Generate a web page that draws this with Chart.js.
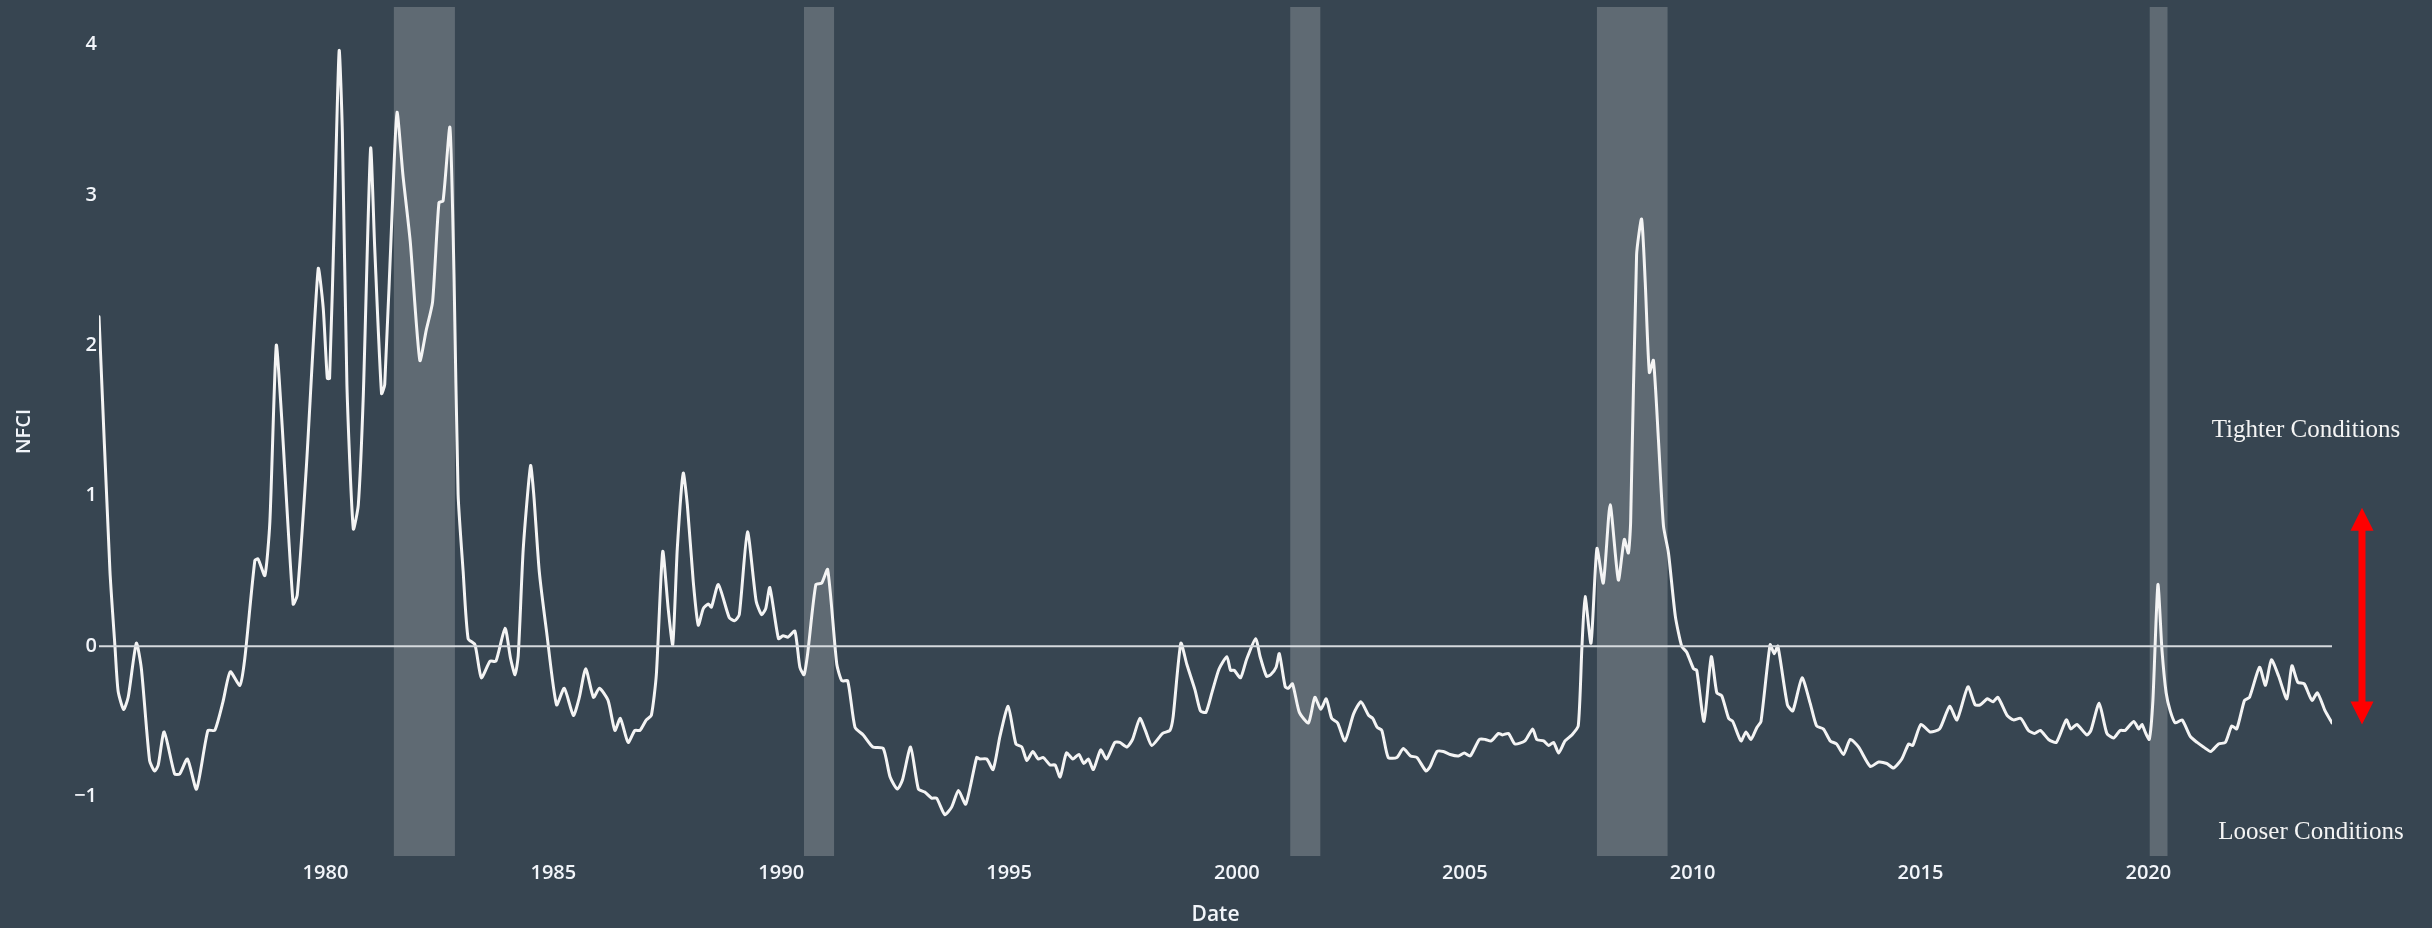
<!DOCTYPE html>
<html>
<head>
<meta charset="utf-8">
<script src="https://cdn.jsdelivr.net/npm/chart.js@4.4.1/dist/chart.umd.min.js"></script>
<style>
    html, body { margin: 0; padding: 0; background: #374551; }
    #wrap { position: relative; width: 2432px; height: 928px; }
    .note {
        position: absolute;
        font-family: "Liberation Serif", serif;
        font-size: 25px;
        color: #f4f4f4;
        transform: translate(-50%, -50%);
        white-space: nowrap;
    }
</style>
</head>
<body>
<div id="wrap">
    <canvas id="nfciChart" width="2432" height="928"></canvas>
    <div class="note" style="left:2306px;top:429px">Tighter Conditions</div>
    <div class="note" style="left:2311px;top:831px">Looser Conditions</div>
</div>
<script>
// dates as decimal years
const dates = [
    1975.03, 1975.27, 1975.38, 1975.45, 1975.57, 1975.67, 1975.85, 1975.96, 1976.14, 1976.25,
    1976.33, 1976.46, 1976.69, 1976.80, 1976.97, 1977.17, 1977.42, 1977.57, 1977.75, 1977.91,
    1978.12, 1978.23, 1978.45, 1978.52, 1978.67, 1978.78, 1978.92, 1979.03, 1979.29, 1979.38,
    1979.58, 1979.84, 1979.95, 1980.04, 1980.09, 1980.20, 1980.30, 1980.37, 1980.47, 1980.61,
    1980.72, 1980.83, 1980.99, 1981.08, 1981.23, 1981.30, 1981.48, 1981.57, 1981.70, 1981.86,
    1982.07, 1982.21, 1982.35, 1982.49, 1982.58, 1982.73, 1982.82, 1982.91, 1983.02, 1983.13,
    1983.28, 1983.42, 1983.61, 1983.74, 1983.94, 1984.06, 1984.16, 1984.23, 1984.34, 1984.50,
    1984.57, 1984.69, 1984.85, 1985.07, 1985.24, 1985.44, 1985.57, 1985.71, 1985.88, 1986.01,
    1986.20, 1986.35, 1986.47, 1986.64, 1986.79, 1986.90, 1987.04, 1987.15, 1987.26, 1987.40,
    1987.52, 1987.62, 1987.72, 1987.85, 1987.94, 1988.07, 1988.18, 1988.29, 1988.40, 1988.47,
    1988.62, 1988.86, 1988.98, 1989.08, 1989.26, 1989.45, 1989.57, 1989.66, 1989.75, 1989.94,
    1990.04, 1990.15, 1990.30, 1990.41, 1990.50, 1990.58, 1990.76, 1990.89, 1991.02, 1991.22,
    1991.33, 1991.46, 1991.62, 1991.80, 1992.01, 1992.24, 1992.39, 1992.55, 1992.66, 1992.84,
    1993.01, 1993.15, 1993.30, 1993.41, 1993.59, 1993.74, 1993.89, 1994.05, 1994.29, 1994.36,
    1994.51, 1994.65, 1994.80, 1994.98, 1995.15, 1995.28, 1995.39, 1995.52, 1995.64, 1995.75,
    1995.90, 1996.01, 1996.12, 1996.26, 1996.40, 1996.53, 1996.64, 1996.74, 1996.85, 1997.01,
    1997.14, 1997.32, 1997.43, 1997.59, 1997.71, 1997.87, 1997.99, 1998.13, 1998.37, 1998.53,
    1998.60, 1998.77, 1998.90, 1999.08, 1999.20, 1999.32, 1999.45, 1999.61, 1999.78, 1999.86,
    1999.94, 2000.08, 2000.21, 2000.41, 2000.51, 2000.65, 2000.74, 2000.86, 2000.93, 2001.06,
    2001.13, 2001.22, 2001.37, 2001.57, 2001.71, 2001.84, 2001.96, 2002.08, 2002.21, 2002.37,
    2002.56, 2002.72, 2002.89, 2002.98, 2003.08, 2003.18, 2003.32, 2003.51, 2003.65, 2003.81,
    2003.95, 2004.15, 2004.24, 2004.39, 2004.53, 2004.68, 2004.86, 2004.99, 2005.12, 2005.32,
    2005.45, 2005.58, 2005.74, 2005.83, 2005.96, 2006.10, 2006.32, 2006.49, 2006.58, 2006.73,
    2006.84, 2006.95, 2007.06, 2007.20, 2007.35, 2007.49, 2007.57, 2007.64, 2007.77, 2007.90,
    2008.04, 2008.19, 2008.37, 2008.50, 2008.59, 2008.64, 2008.77, 2008.88, 2008.96, 2009.05,
    2009.14, 2009.25, 2009.36, 2009.47, 2009.62, 2009.76, 2009.87, 2010.02, 2010.09, 2010.25,
    2010.41, 2010.53, 2010.64, 2010.79, 2010.88, 2011.06, 2011.17, 2011.28, 2011.41, 2011.50,
    2011.70, 2011.79, 2011.87, 2012.08, 2012.20, 2012.40, 2012.58, 2012.72, 2012.87, 2013.02,
    2013.16, 2013.31, 2013.46, 2013.64, 2013.90, 2014.08, 2014.26, 2014.41, 2014.59, 2014.74,
    2014.83, 2015.01, 2015.21, 2015.42, 2015.64, 2015.80, 2016.04, 2016.20, 2016.31, 2016.47,
    2016.59, 2016.70, 2016.90, 2017.04, 2017.20, 2017.37, 2017.50, 2017.63, 2017.81, 2017.98,
    2018.20, 2018.30, 2018.43, 2018.65, 2018.74, 2018.92, 2019.09, 2019.24, 2019.38, 2019.49,
    2019.68, 2019.79, 2019.86, 2019.93, 2020.02, 2020.10, 2020.21, 2020.30, 2020.39, 2020.48,
    2020.59, 2020.74, 2020.92, 2021.07, 2021.21, 2021.37, 2021.54, 2021.69, 2021.83, 2021.94,
    2022.11, 2022.22, 2022.44, 2022.57, 2022.70, 2022.86, 2023.04, 2023.15, 2023.28, 2023.42,
    2023.59, 2023.71, 2023.88, 2024.03
];
const nfci = [
    2.19, 0.50, 0.00, -0.30, -0.42, -0.34, 0.02, -0.15, -0.76, -0.83,
    -0.79, -0.57, -0.85, -0.85, -0.75, -0.95, -0.56, -0.56, -0.37, -0.17,
    -0.26, -0.08, 0.57, 0.58, 0.47, 0.83, 2.00, 1.56, 0.28, 0.34,
    1.19, 2.51, 2.25, 1.78, 1.78, 2.91, 3.96, 3.42, 1.74, 0.78,
    0.94, 1.67, 3.31, 2.65, 1.68, 1.74, 3.02, 3.55, 3.13, 2.69,
    1.90, 2.10, 2.29, 2.95, 2.96, 3.45, 2.47, 1.01, 0.50, 0.05,
    0.01, -0.21, -0.10, -0.10, 0.12, -0.08, -0.19, -0.06, 0.65, 1.20,
    1.01, 0.50, 0.10, -0.39, -0.28, -0.46, -0.34, -0.15, -0.34, -0.28,
    -0.36, -0.56, -0.48, -0.64, -0.56, -0.56, -0.49, -0.46, -0.19, 0.63,
    0.25, 0.01, 0.65, 1.15, 0.94, 0.43, 0.14, 0.25, 0.28, 0.26,
    0.41, 0.19, 0.17, 0.21, 0.76, 0.30, 0.21, 0.25, 0.39, 0.05,
    0.07, 0.06, 0.10, -0.14, -0.19, -0.05, 0.41, 0.42, 0.51, -0.12,
    -0.23, -0.23, -0.54, -0.59, -0.67, -0.68, -0.87, -0.95, -0.89, -0.67,
    -0.95, -0.97, -1.01, -1.01, -1.12, -1.07, -0.96, -1.05, -0.74, -0.75,
    -0.75, -0.82, -0.60, -0.40, -0.65, -0.67, -0.76, -0.70, -0.75, -0.74,
    -0.79, -0.79, -0.87, -0.71, -0.75, -0.72, -0.78, -0.75, -0.82, -0.69,
    -0.75, -0.64, -0.64, -0.67, -0.62, -0.48, -0.56, -0.66, -0.58, -0.56,
    -0.47, 0.02, -0.12, -0.29, -0.43, -0.44, -0.31, -0.15, -0.07, -0.16,
    -0.16, -0.21, -0.09, 0.05, -0.07, -0.20, -0.19, -0.14, -0.05, -0.27,
    -0.28, -0.25, -0.44, -0.51, -0.34, -0.42, -0.35, -0.48, -0.51, -0.63,
    -0.45, -0.37, -0.46, -0.48, -0.54, -0.56, -0.74, -0.74, -0.68, -0.73,
    -0.74, -0.83, -0.80, -0.70, -0.70, -0.72, -0.73, -0.71, -0.73, -0.62,
    -0.62, -0.63, -0.58, -0.59, -0.58, -0.65, -0.63, -0.55, -0.62, -0.63,
    -0.66, -0.64, -0.71, -0.63, -0.59, -0.53, -0.01, 0.33, 0.02, 0.65,
    0.42, 0.94, 0.44, 0.71, 0.62, 0.83, 2.60, 2.84, 2.42, 1.82,
    1.90, 1.37, 0.80, 0.62, 0.20, 0.00, -0.04, -0.15, -0.16, -0.50,
    -0.07, -0.31, -0.33, -0.48, -0.50, -0.63, -0.57, -0.62, -0.54, -0.50,
    0.01, -0.05, 0.00, -0.39, -0.43, -0.21, -0.38, -0.53, -0.55, -0.63,
    -0.65, -0.72, -0.62, -0.67, -0.80, -0.77, -0.78, -0.81, -0.75, -0.65,
    -0.66, -0.52, -0.57, -0.55, -0.40, -0.49, -0.27, -0.39, -0.39, -0.35,
    -0.37, -0.34, -0.46, -0.49, -0.48, -0.56, -0.58, -0.56, -0.62, -0.64,
    -0.49, -0.55, -0.52, -0.59, -0.56, -0.38, -0.58, -0.61, -0.56, -0.56,
    -0.50, -0.55, -0.52, -0.57, -0.62, -0.36, 0.41, -0.03, -0.31, -0.43,
    -0.51, -0.49, -0.60, -0.64, -0.67, -0.70, -0.65, -0.64, -0.53, -0.55,
    -0.36, -0.34, -0.14, -0.26, -0.09, -0.20, -0.35, -0.13, -0.24, -0.25,
    -0.36, -0.31, -0.43, -0.51
];

// NBER recessions (shaded)
const recessionStart = [1981.50, 1990.50, 2001.17, 2007.90, 2020.03];
const recessionEnd   = [1982.84, 1991.16, 2001.83, 2009.45, 2020.42];

const xTicks = [1980, 1985, 1990, 1995, 2000, 2005, 2010, 2015, 2020];
const yTicks = [-1, 0, 1, 2, 3, 4];
const yMin = -1.395, yMax = 4.25;

// red arrow, in NFCI units
const arrowTop = 0.92;
const arrowBottom = -0.52;

const textColor = "#f2f5fa";

const recessionBands = {
    id: "recessionBands",
    beforeDatasetsDraw(chart) {
        const { ctx, chartArea, scales: { x } } = chart;
        ctx.save();
        ctx.fillStyle = "rgba(255,255,255,0.2)";
        recessionStart.forEach((s, i) => {
            const x0 = x.getPixelForValue(s);
            const x1 = x.getPixelForValue(recessionEnd[i]);
            ctx.fillRect(x0, chartArea.top, x1 - x0, chartArea.bottom - chartArea.top);
        });
        ctx.restore();
    }
};

const conditionsArrow = {
    id: "conditionsArrow",
    afterDraw(chart) {
        const { ctx, chartArea, scales: { y } } = chart;
        const cx = chartArea.right + 30;
        const top = y.getPixelForValue(arrowTop);
        const bot = y.getPixelForValue(arrowBottom);
        const head = 23, half = 11.5;
        ctx.save();
        ctx.fillStyle = "#ff0000";
        ctx.strokeStyle = "#ff0000";
        ctx.lineWidth = 7;
        ctx.beginPath();
        ctx.moveTo(cx, top + head - 2);
        ctx.lineTo(cx, bot - head + 2);
        ctx.stroke();
        ctx.beginPath();
        ctx.moveTo(cx, top);
        ctx.lineTo(cx - half, top + head);
        ctx.lineTo(cx + half, top + head);
        ctx.closePath();
        ctx.fill();
        ctx.beginPath();
        ctx.moveTo(cx, bot);
        ctx.lineTo(cx - half, bot - head);
        ctx.lineTo(cx + half, bot - head);
        ctx.closePath();
        ctx.fill();
        ctx.restore();
    }
};

const series = dates.map((d, i) => ({ x: d, y: nfci[i] }));
const zeroLine = [{ x: dates[0], y: 0 }, { x: dates[dates.length - 1], y: 0 }];

new Chart(document.getElementById("nfciChart"), {
    type: "line",
    data: {
        datasets: [
            {
                label: "zero",
                data: zeroLine,
                borderColor: "#d6dade",
                borderWidth: 2,
                pointRadius: 0,
                order: 0
            },
            {
                label: "NFCI",
                data: series,
                borderColor: "#f4f4f4",
                borderWidth: 3,
                pointRadius: 0,
                tension: 0.2,
                borderJoinStyle: "round",
                borderCapStyle: "round",
                order: 1
            }
        ]
    },
    options: {
        responsive: false,
        animation: false,
        devicePixelRatio: 1,
        layout: { padding: { top: 7, right: 100, bottom: 0, left: 0 } },
        plugins: {
            legend: { display: false },
            tooltip: { enabled: false }
        },
        scales: {
            x: {
                type: "linear",
                min: dates[0],
                max: dates[dates.length - 1],
                grid: { display: false, drawTicks: false },
                border: { display: false },
                afterBuildTicks: s => { s.ticks = xTicks.map(v => ({ value: v })); },
                afterFit: s => { s.height = 72; s.paddingLeft = 0; s.paddingRight = 0; },
                ticks: {
                    color: textColor,
                    font: { family: "'Open Sans'", size: 20, weight: "600" },
                    padding: 5,
                    maxRotation: 0,
                    autoSkip: false,
                    callback: v => String(v)
                },
                title: {
                    display: true,
                    text: "Date",
                    color: textColor,
                    font: { family: "'Open Sans'", size: 21, weight: "600" },
                    padding: { top: 0, bottom: 0 }
                }
            },
            y: {
                min: yMin,
                max: yMax,
                grid: { display: false, drawTicks: false },
                border: { display: false },
                afterBuildTicks: s => { s.ticks = yTicks.map(v => ({ value: v })); },
                afterFit: s => { s.width = 99; s.paddingTop = 0; s.paddingBottom = 0; },
                ticks: {
                    color: textColor,
                    font: { family: "'Open Sans'", size: 20, weight: "600" },
                    padding: 2,
                    callback: v => v < 0 ? "\u2212" + Math.abs(v) : String(v)
                },
                title: {
                    display: true,
                    text: "NFCI",
                    color: textColor,
                    font: { family: "'Open Sans'", size: 20, weight: "600" },
                    padding: { top: 12, bottom: 0 }
                }
            }
        }
    },
    plugins: [recessionBands, conditionsArrow]
});
</script>
</body>
</html>
